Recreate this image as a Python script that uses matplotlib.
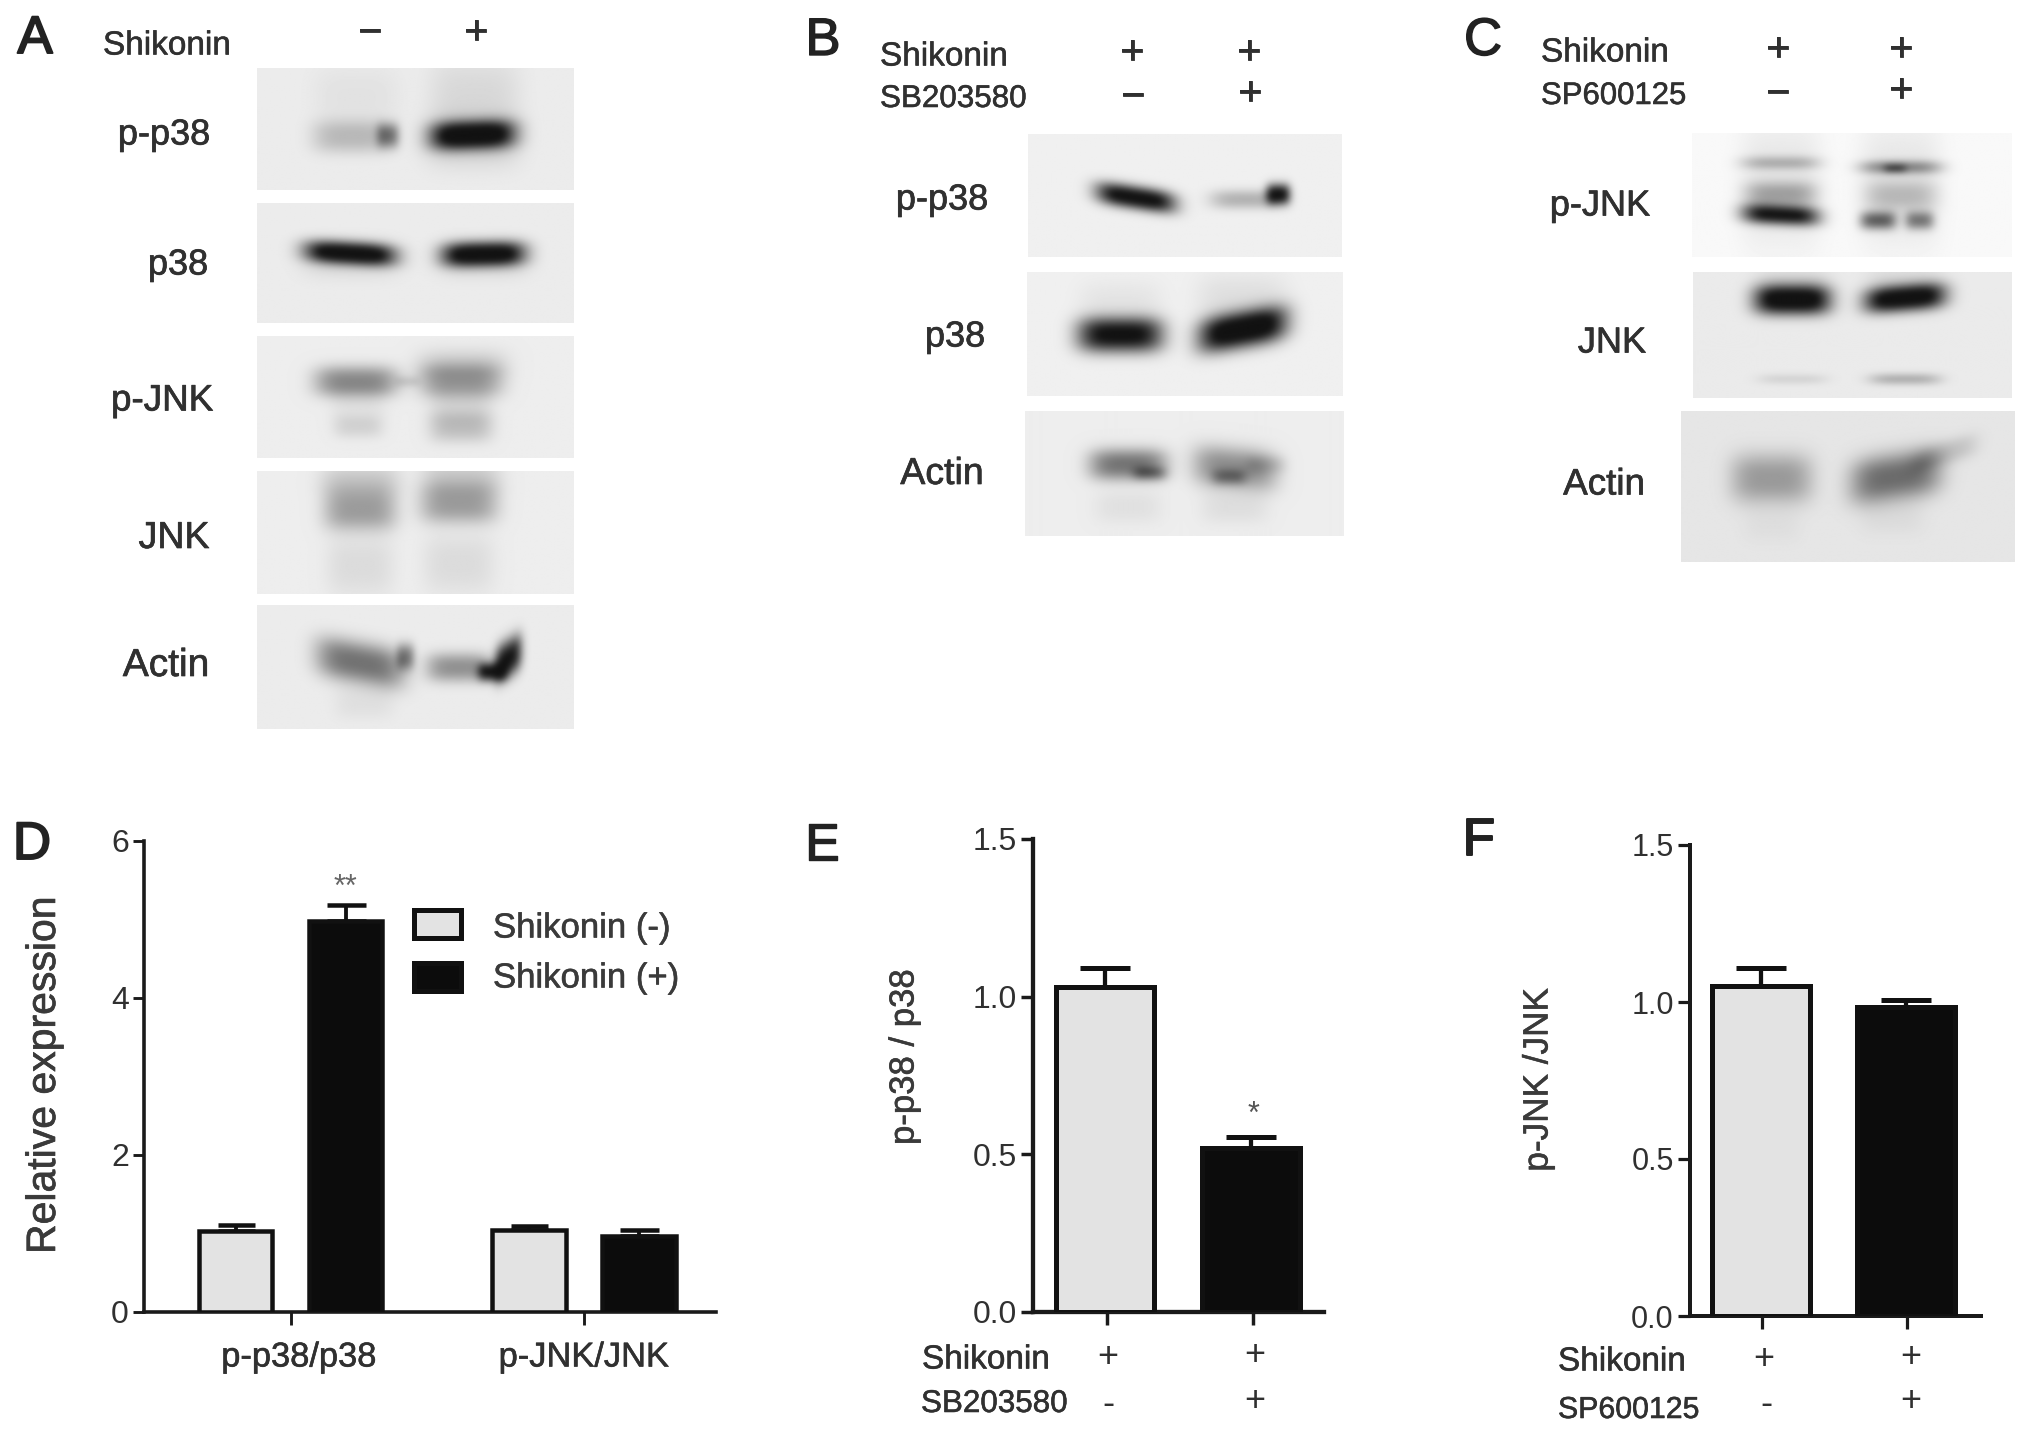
import numpy as np
import matplotlib
matplotlib.use("Agg")
import matplotlib.pyplot as plt
import matplotlib.patheffects as pe
from matplotlib.patches import Rectangle

plt.rcParams['font.family'] = ['Liberation Sans', 'DejaVu Sans']

W, H = 2031, 1434
INK = '#303030'
BAR_EDGE = '#111111'
LIGHT = '#e3e3e3'
DARK = '#0c0c0c'

# ---------- bar chart data ----------
groups_d = ['p-p38/p38', 'p-JNK/JNK']
shik_minus = [1.03, 1.04]
shik_minus_top = [1.10, 1.09]
shik_plus = [4.98, 0.96]
shik_plus_top = [5.18, 1.04]
legend_labels = ['Shikonin (-)', 'Shikonin (+)']
ticks_d = [0, 2, 4, 6]

values_e = [1.03, 0.52]
tops_e = [1.09, 0.555]
values_f = [1.05, 0.985]
tops_f = [1.108, 1.005]
ticks_ef = [0.0, 0.5, 1.0, 1.5]

# ---------- blot bands: centre x, centre y, half width, half height, strength, tilt ----------
blot_a = [
    dict(box=(650, 145, 1450, 403), bg=.925, bands=[
        (900, 205, 110, 55, .04, 0), (1200, 210, 115, 75, .08, 0),
        (890, 290, 100, 30, .2, 0), (980, 288, 28, 22, .42, 0),
        (1195, 287, 108, 26, .95, -.03), (1195, 300, 120, 50, .1, 0)]),
    dict(box=(650, 430, 1450, 685), bg=.925, bands=[
        (885, 538, 115, 20, .98, .05), (1222, 540, 105, 22, .98, -.02),
        (885, 550, 125, 35, .08, 0), (1222, 550, 115, 35, .08, 0)]),
    dict(box=(650, 712, 1450, 970), bg=.93, bands=[
        (900, 808, 105, 28, .4, 0), (1165, 805, 105, 32, .33, 0),
        (905, 905, 62, 20, .1, 0), (1165, 905, 80, 28, .18, 0),
        (1170, 770, 115, 30, .09, 0), (1030, 808, 30, 8, .12, 0),
        (1165, 860, 80, 35, .08, 0), (905, 860, 70, 35, .05, 0)]),
    dict(box=(650, 997, 1450, 1258), bg=.93, bands=[
        (910, 1080, 92, 38, .32, 0), (1160, 1068, 98, 35, .32, 0),
        (910, 1200, 85, 55, .07, 0), (1160, 1195, 90, 55, .07, 0),
        (910, 1020, 100, 28, .15, 0), (1165, 1015, 100, 28, .15, 0)]),
    dict(box=(650, 1283, 1450, 1545), bg=.925, bands=[
        (910, 1405, 110, 38, .48, .15), (1025, 1392, 22, 24, .4, 0),
        (1160, 1415, 82, 26, .36, 0), (1285, 1395, 34, 34, .85, -.5),
        (1245, 1425, 36, 16, .75, 0), (920, 1490, 75, 30, .05, 0)]),
]
blot_b = [
    dict(box=(628, 375, 1420, 720), bg=.94, bands=[
        (900, 555, 100, 27, .98, .17), (1180, 560, 92, 22, .25, 0),
        (1260, 545, 30, 24, .9, 0)]),
    dict(box=(625, 762, 1422, 1110), bg=.94, bands=[
        (860, 940, 108, 42, .9, 0), (1170, 925, 112, 44, 1.0, -.2),
        (860, 860, 105, 60, .05, 0), (1170, 850, 115, 70, .07, 0)]),
    dict(box=(620, 1150, 1425, 1500), bg=.93, bands=[
        (880, 1300, 98, 38, .48, 0), (935, 1325, 42, 15, .28, 0),
        (1150, 1310, 105, 50, .38, .1), (1135, 1335, 42, 18, .25, 0),
        (1230, 1300, 50, 22, .1, 0), (880, 1420, 85, 40, .05, 0),
        (1150, 1420, 85, 40, .06, 0)]),
]
blot_c = [
    dict(box=(670, 360, 1520, 695), bg=.975, bands=[
        (905, 500, 108, 145, .08, 0), (1225, 500, 108, 145, .08, 0),
        (905, 440, 105, 14, .25, 0), (1225, 452, 108, 14, .42, 0),
        (1210, 455, 30, 9, .35, 0), (905, 525, 95, 28, .28, 0),
        (1225, 530, 95, 34, .18, 0), (905, 582, 103, 22, .9, .05),
        (1165, 597, 48, 20, .58, 0), (1275, 597, 38, 20, .48, 0)]),
    dict(box=(672, 735, 1518, 1075), bg=.92, bands=[
        (935, 810, 102, 34, 1.0, 0), (1235, 805, 108, 30, 1.0, -.08),
        (935, 765, 98, 28, .1, 0), (1235, 760, 102, 28, .08, 0),
        (935, 1025, 92, 9, .12, 0), (1235, 1025, 95, 11, .28, 0)]),
    dict(box=(640, 1110, 1525, 1520), bg=.9, bands=[
        (880, 1295, 108, 58, .3, 0), (1210, 1290, 120, 55, .48, -.15),
        (1340, 1225, 85, 28, .14, -.3), (880, 1420, 75, 40, .03, 0),
        (1200, 1400, 85, 40, .04, 0)]),
]

fig = plt.figure(figsize=(W / 100, H / 100), dpi=100, facecolor='white')


def txt(x, y, s, size=24, ha='center', color=INK, heavy=0, **kw):
    t = fig.text(x / W, 1 - y / H, s, fontsize=size, ha=ha, va='center', color=color, **kw)
    if heavy:
        t.set_path_effects([pe.withStroke(linewidth=heavy, foreground=color)])
    return t


def add_axes_px(x0, y0, x1, y1):
    return fig.add_axes([x0 / W, 1 - y1 / H, (x1 - x0) / W, (y1 - y0) / H])


def soften(a, sigma=3.0):
    r = int(3 * sigma)
    k = np.exp(-np.arange(-r, r + 1) ** 2 / (2 * sigma ** 2))
    k /= k.sum()
    p = np.pad(a, r, mode='edge')
    p = np.apply_along_axis(lambda v: np.convolve(v, k, mode='same'), 0, p)
    p = np.apply_along_axis(lambda v: np.convolve(v, k, mode='same'), 1, p)
    return p[r:-r, r:-r]


def draw_blots(rows, ox, oy, fx, fy):
    for row in rows:
        bx0, by0, bx1, by1 = row['box']
        ax = add_axes_px(ox + bx0 * fx, oy + by0 * fy, ox + bx1 * fx, oy + by1 * fy)
        nx = int((bx1 - bx0) * fx)
        ny = int((by1 - by0) * fy)
        xs, ys = np.meshgrid(np.linspace(bx0, bx1, nx), np.linspace(by0, by1, ny))
        dens = np.zeros_like(xs)
        for cx, cy, hw, hh, s, tilt in row['bands']:
            dy = ys - cy - tilt * (xs - cx)
            dens += s * np.exp(-np.abs((xs - cx) / hw) ** 4) * np.exp(-np.abs(dy / (1.15 * hh)) ** 2.6)
        img = soften(np.clip(row['bg'] - dens, 0.07, 1))
        ax.imshow(img, cmap='gray', vmin=0, vmax=1, aspect='auto', interpolation='bilinear')
        ax.axis('off')


draw_blots(blot_a, 0, 0, 620 / 1568, 740 / 1568)
draw_blots(blot_b, 780, 0, 620 / 1568, 560 / 1568)
draw_blots(blot_c, 1440, 0, 590 / 1568, 580 / 1568)


def style_axes(ax, lw_px, yticks, yfmt, tick_size, ticklen_px=12):
    lw = lw_px * .72
    for side in ('top', 'right'):
        ax.spines[side].set_visible(False)
    for side in ('left', 'bottom'):
        ax.spines[side].set_linewidth(lw)
        ax.spines[side].set_color('#1a1a1a')
    ax.set_facecolor('none')
    ax.set_yticks(yticks)
    ax.set_yticklabels([yfmt.format(v) for v in yticks], fontsize=tick_size, color=INK)
    ax.tick_params(axis='y', length=ticklen_px * .72, width=lw * .8, color='#1a1a1a', pad=3)
    ax.tick_params(axis='x', length=13 * .72, width=lw * .8, color='#1a1a1a', labelbottom=False)


def draw_bar(ax, x, width, value, top, fill, lw_px, cap_px):
    lw = lw_px * .72
    ax.errorbar(x, value, yerr=[[0], [top - value]], color='#111111', elinewidth=lw * .85,
                capsize=cap_px * .72 / 2, capthick=lw, zorder=2, fmt='none')
    ax.bar(x, value, width, color=fill, edgecolor=BAR_EDGE, linewidth=lw, zorder=3)


# ---------- D ----------
ax = add_axes_px(144, 841, 716, 1311.5)
ax.set_xlim(-.5, 1.45)
ax.set_ylim(0, 6)
style_axes(ax, 3.6, ticks_d, '{:d}', 23, 11)
ax.set_xticks(range(len(groups_d)))
for i in range(len(groups_d)):
    draw_bar(ax, i - .188, .25, shik_minus[i], shik_minus_top[i], LIGHT, 4.5, 37)
    draw_bar(ax, i + .188, .25, shik_plus[i], shik_plus_top[i], DARK, 4.5, 39)
ax.text(.188, shik_plus_top[0] + .03, '**', fontsize=22, ha='center', va='bottom', color='#666666')
for i, g in enumerate(groups_d):
    txt(299 + i * 285, 1358, g, 24.8, heavy=.4)
txt(44, 1075, 'Relative expression', 29.5, rotation=90, color='#3a3a3a', heavy=.5)
for (y0, y1, fc), lab, ty in zip([(910, 938, LIGHT), (963, 991, DARK)], legend_labels, (928, 978)):
    fig.add_artist(Rectangle((414 / W, 1 - y1 / H), 47 / W, (y1 - y0) / H, transform=fig.transFigure,
                             facecolor=fc, edgecolor=BAR_EDGE, linewidth=3.6))
    txt(493, ty, lab, 25, ha='left', color='#3a3a3a', heavy=.4)

# ---------- E ----------
ax = add_axes_px(1033, 839, 1324, 1311.5)
ax.set_xlim(-.507, 1.486)
ax.set_ylim(0, 1.5)
style_axes(ax, 4.3, ticks_ef, '{:.1f}', 23)
ax.set_xticks(range(len(values_e)))
for i, fill in enumerate((LIGHT, DARK)):
    draw_bar(ax, i - .012, .672, values_e[i], tops_e[i], fill, 5, 50)
ax.text(1, tops_e[1] + .02, '*', fontsize=22, ha='center', va='bottom', color='#555555')
txt(904, 1057, 'p-p38 / p38', 25, rotation=90, color='#3a3a3a', heavy=.4)
txt(922, 1360, 'Shikonin', 24, ha='left', heavy=.4)
txt(921, 1404, 'SB203580', 22.6, ha='left', heavy=.4)
txt(1108, 1358, '+', 26)
txt(1255, 1355, '+', 26)
txt(1108, 1404, '-', 26)
txt(1255, 1401, '+', 26)

# ---------- F ----------
ax = add_axes_px(1690, 845, 1981, 1316)
ax.set_xlim(-.497, 1.51)
ax.set_ylim(0, 1.5)
style_axes(ax, 4, ticks_ef, '{:.1f}', 22)
ax.set_xticks(range(len(values_f)))
for i, fill in enumerate((LIGHT, DARK)):
    draw_bar(ax, i - .01, .675, values_f[i], tops_f[i], fill, 5, 50)
txt(1538, 1080, 'p-JNK /JNK', 25.3, rotation=90, color='#3a3a3a', heavy=.4)
txt(1558, 1362, 'Shikonin', 24, ha='left', heavy=.4)
txt(1558, 1410, 'SP600125', 21.8, ha='left', heavy=.4)
txt(1764, 1359, '+', 26)
txt(1911, 1357, '+', 26)
txt(1766, 1405, '-', 26)
txt(1911, 1401, '+', 26)

# ---------- blot labels ----------
for x, y, s, fs in [(164, 135, 'p-p38', 26), (178, 265, 'p38', 26), (162, 401, 'p-JNK', 26.5), (174, 538, 'JNK', 27),
                    (166, 666, 'Actin', 28),
                    (942, 200, 'p-p38', 26), (955, 337, 'p38', 26), (942, 474, 'Actin', 27),
                    (1600, 206, 'p-JNK', 26), (1612, 343, 'JNK', 26), (1604, 485, 'Actin', 26.5)]:
    txt(x, y, s, fs, heavy=.5)
for x, y, s, fs in [(103, 46, 'Shikonin', 24), (880, 57, 'Shikonin', 24), (880, 99, 'SB203580', 22.6),
                    (1541, 53, 'Shikonin', 24), (1541, 96, 'SP600125', 22.4)]:
    txt(x, y, s, fs, ha='left', heavy=.4)
for x, y, s in [(370, 33, '\u2212'), (476, 33, '+'), (1132, 53, '+'), (1249, 53, '+'), (1133, 97, '\u2212'), (1250, 94, '+'),
                (1778, 50, '+'), (1901, 50, '+'), (1778, 94, '\u2212'), (1901, 91, '+')]:
    txt(x, y, s, 30, heavy=.6)

# ---------- panel letters ----------
for x, y, s, h in [(35, 39, 'A', 1.4), (823, 41, 'B', 1), (1483, 41, 'C', 1),
                   (32, 845, 'D', 1.4), (822, 846, 'E', 1), (1479, 841, 'F', 1.4)]:
    txt(x, y, s, 38, heavy=h, color='#222222')

fig.savefig('out.png', dpi=100, facecolor='white')
